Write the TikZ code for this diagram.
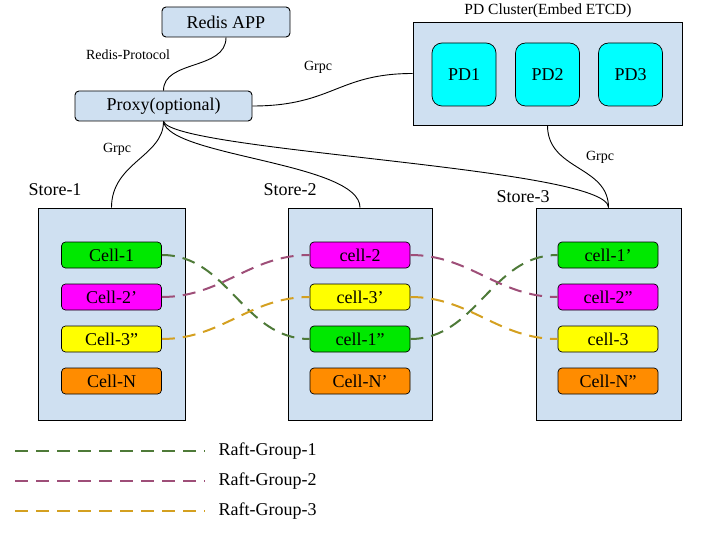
\documentclass[tikz,border=0pt]{standalone}
\usepackage{fontspec}
\setmainfont{Liberation Serif}
\newfontfamily\tnr{Liberation Serif}
\begin{document}
\begin{tikzpicture}[x=1pt,y=-1pt,
  big/.style={font=\tnr\fontsize{18}{20}\selectfont},
  small/.style={font=\tnr\fontsize{14}{16}\selectfont},
  boxfill/.style={draw=black, fill=blueFill, line width=0.9pt},
  topbox/.style={boxfill, rounded corners=4pt, big, inner sep=0pt},
  pdbox/.style={draw=black, fill=pdCyan, rounded corners=10pt, minimum width=64pt, minimum height=63pt, big, line width=0.7pt},
  cellbox/.style={draw=black, rounded corners=4pt, minimum width=100pt, minimum height=26pt, inner sep=0pt, big, line width=0.7pt},
  wire/.style={draw=black, line width=0.9pt},
  raft/.style={line width=2pt, dash pattern=on 13pt off 8pt},
]
\definecolor{blueFill}{HTML}{CFE0F1}
\definecolor{pdCyan}{HTML}{00FFFF}
\definecolor{cellGreen}{HTML}{00E800}
\definecolor{cellMag}{HTML}{FF00FF}
\definecolor{cellYel}{HTML}{FFFF00}
\definecolor{cellOra}{HTML}{FF8C00}
\definecolor{rgA}{HTML}{4E7A38}
\definecolor{rgB}{HTML}{9E4E78}
\definecolor{rgC}{HTML}{D4A020}
\useasboundingbox (0,0) rectangle (720,540);

% top
\node[topbox, minimum width=128pt, minimum height=30pt] (redis) at (226,22) {Redis APP};
\node[topbox, minimum width=177pt, minimum height=30pt] (proxy) at (163.5,106) {Proxy(optional)};
\node[small] (lblrp) at (128,55) {Redis-Protocol};
\node[small] (lblg1) at (318,67) {Grpc};

\node[boxfill, minimum width=269pt, minimum height=103pt, inner sep=0pt] (pdc) at (547.5,73.5) {};
\node[font=\tnr\fontsize{15.5}{17}\selectfont] (pdtitle) at (548,11) {PD Cluster(Embed ETCD)};
\node[pdbox] (pd1) at (464,74.5) {PD1};
\node[pdbox] (pd2) at (547.5,74.5) {PD2};
\node[pdbox] (pd3) at (630.5,74.5) {PD3};

% stores
\node[boxfill, minimum width=147pt, minimum height=212pt, inner sep=0pt] (s1) at (111.5,314) {};
\node[boxfill, minimum width=144pt, minimum height=212pt, inner sep=0pt] (s2) at (360,314) {};
\node[boxfill, minimum width=145pt, minimum height=212pt, inner sep=0pt] (s3) at (608.5,314) {};
\node[big] (s1l) at (55,190) {Store-1};
\node[big] (s2l) at (290,190) {Store-2};
\node[big] (s3l) at (523,197) {Store-3};

% cells
\node[cellbox, fill=cellGreen] (a1) at (111.5,255) {Cell-1};
\node[cellbox, fill=cellMag]   (a2) at (111.5,297) {Cell-2’};
\node[cellbox, fill=cellYel]   (a3) at (111.5,339) {Cell-3”};
\node[cellbox, fill=cellOra]   (a4) at (111.5,381) {Cell-N};

\node[cellbox, fill=cellMag]   (b1) at (360,255) {cell-2};
\node[cellbox, fill=cellYel]   (b2) at (360,297) {cell-3’};
\node[cellbox, fill=cellGreen] (b3) at (360,339) {cell-1”};
\node[cellbox, fill=cellOra]   (b4) at (360,381) {Cell-N’};

\node[cellbox, fill=cellGreen] (c1) at (608,255) {cell-1’};
\node[cellbox, fill=cellMag]   (c2) at (608,297) {cell-2”};
\node[cellbox, fill=cellYel]   (c3) at (608,339) {cell-3};
\node[cellbox, fill=cellOra]   (c4) at (608,381) {Cell-N”};

% wires
\draw[wire] (redis.south) .. controls +(0,33) and +(0,-31) .. (proxy.north);
\draw[wire] (proxy.east) .. controls +(80,0) and +(-75,0) .. (pdc.west);
\draw[wire] (proxy.south) .. controls +(0,35) and +(0,-45) .. (s1.north);
\draw[wire] (proxy.south) .. controls +(5,35) and +(0,-45) .. (s2.north);
\draw[wire] (proxy.south) .. controls +(10,30) and +(0,-40) .. (s3.north);
\draw[wire] (pdc.south) .. controls +(0,45) and +(0,-42) .. (s3.north);
\node[small] (lblg2) at (117,149) {Grpc};
\node[small] (lblg3) at (600,157) {Grpc};

% raft groups
\draw[raft, rgA] (a1.east) to[out=0,in=180] (b3.west);
\draw[raft, rgA] (b3.east) to[out=0,in=180] (c1.west);
\draw[raft, rgB] (a2.east) to[out=0,in=180] (b1.west);
\draw[raft, rgB] (b1.east) to[out=0,in=180] (c2.west);
\draw[raft, rgC] (a3.east) to[out=0,in=180] (b2.west);
\draw[raft, rgC] (b2.east) to[out=0,in=180] (c3.west);

% legend
\coordinate (l1a) at (15,451); \coordinate (l1b) at (205,451);
\coordinate (l2a) at (15,481); \coordinate (l2b) at (205,481);
\coordinate (l3a) at (15,511); \coordinate (l3b) at (205,511);
\draw[raft, rgA] (l1a) -- (l1b);
\draw[raft, rgB] (l2a) -- (l2b);
\draw[raft, rgC] (l3a) -- (l3b);
\node[big, anchor=west] (lg1) at (215,451) {Raft-Group-1};
\node[big, anchor=west] (lg2) at (215,481) {Raft-Group-2};
\node[big, anchor=west] (lg3) at (215,511) {Raft-Group-3};
\end{tikzpicture}
\end{document}
